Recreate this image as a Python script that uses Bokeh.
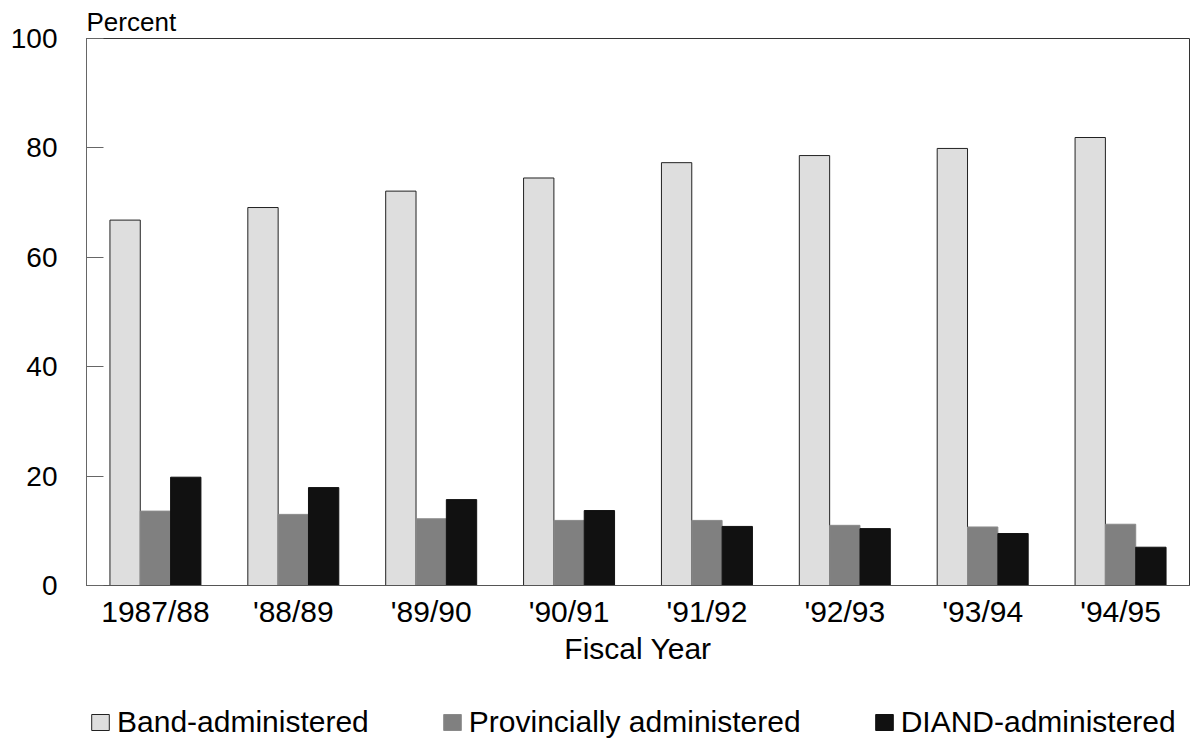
from bokeh.plotting import figure
from bokeh.layouts import column
from bokeh.models import FactorRange, Range1d, Legend, LegendItem, ColumnDataSource
from bokeh.transform import dodge
from bokeh.embed import file_html
from bokeh.resources import INLINE

years = ["1987/88", "'88/89", "'89/90", "'90/91", "'91/92", "'92/93", "'93/94", "'94/95"]
band = [66.8, 69.1, 72.1, 74.5, 77.3, 78.6, 79.9, 81.9]
prov = [13.6, 13.0, 12.2, 11.9, 11.9, 11.0, 10.7, 11.2]
diand = [19.8, 17.9, 15.7, 13.7, 10.8, 10.4, 9.5, 7.0]
series_names = ["Band-administered", "Provincially administered", "DIAND-administered"]
colors = ["#dedede", "#808080", "#111111"]
edge_colors = ["#222222", "#8a8a8a", "#111111"]
y_ticks = [0, 20, 40, 60, 80, 100]

FONT = "Liberation Sans"

src = ColumnDataSource(dict(year=years, band=band, prov=prov, diand=diand))
cols = ["band", "prov", "diand"]
bw = 0.22
offsets = [-bw, 0.0, bw]

# ---------------- main chart ----------------
p = figure(width=1190, height=673,
           x_range=FactorRange(*years, range_padding=0),
           y_range=Range1d(0, 100),
           output_backend="svg", toolbar_location=None,
           min_border_left=86, min_border_right=1,
           min_border_top=38, min_border_bottom=88)

p.title.text = "Percent"
p.title.text_font = FONT
p.title.text_font_size = "26px"
p.title.text_font_style = "normal"
p.title.text_color = "black"
p.title.align = "left"
p.title.standoff = 4

p.xgrid.grid_line_color = None
p.ygrid.grid_line_color = None
p.outline_line_color = "#333333"
p.background_fill_color = "white"

for col, off, fc, lc in zip(cols, offsets, colors, edge_colors):
    p.vbar(x=dodge("year", off, range=p.x_range), top=col, width=bw,
           source=src, fill_color=fc, line_color=lc, line_width=1)

p.yaxis.ticker = y_ticks
p.yaxis.major_tick_in = 17
p.yaxis.major_tick_out = 0
p.yaxis.minor_tick_line_color = None
p.yaxis.major_label_standoff = 29
p.yaxis.major_label_text_font = FONT
p.yaxis.major_label_text_font_size = "28px"
p.yaxis.major_label_text_color = "black"
p.yaxis.axis_line_color = "#666666"
p.yaxis.major_tick_line_color = "#666666"

p.xaxis.axis_label = "Fiscal Year"
p.xaxis.axis_label_text_font = FONT
p.xaxis.axis_label_text_font_size = "30px"
p.xaxis.axis_label_text_font_style = "normal"
p.xaxis.axis_label_text_color = "black"
p.xaxis.axis_label_standoff = 1
p.xaxis.major_label_standoff = 3
p.xaxis.major_label_text_font = FONT
p.xaxis.major_label_text_font_size = "30px"
p.xaxis.major_label_text_color = "black"
p.xaxis.major_tick_line_color = None
p.xaxis.minor_tick_line_color = None
p.xaxis.axis_line_color = "#555555"

# ---------------- legend strip ----------------
lg = figure(width=1190, height=66,
            x_range=FactorRange(*years), y_range=Range1d(0, 100),
            output_backend="svg", toolbar_location=None,
            x_axis_location=None, y_axis_location=None,
            min_border_left=0, min_border_right=0, min_border_top=0, min_border_bottom=0)
lg.outline_line_color = None
lg.xgrid.grid_line_color = None
lg.ygrid.grid_line_color = None

leg_renderers = []
for col, off, fc, lc in zip(cols, offsets, colors, edge_colors):
    r = lg.vbar(x=dodge("year", off, range=lg.x_range), top=col, width=bw,
                source=src, fill_color=fc, line_color=lc, line_width=1, visible=False)
    leg_renderers.append(r)

legend = Legend(items=[LegendItem(label=n, renderers=[r]) for n, r in zip(series_names, leg_renderers)],
                orientation="horizontal", location=(3, 0),
                border_line_color=None, background_fill_alpha=0,
                inactive_fill_alpha=0,
                padding=0, margin=0, spacing=72, label_standoff=6,
                glyph_width=22, glyph_height=20,
                label_text_font=FONT, label_text_font_size="30px",
                label_text_color="black")
lg.add_layout(legend)

layout = column(p, lg, spacing=0)
open("out.html", "w").write(file_html(layout, INLINE))
